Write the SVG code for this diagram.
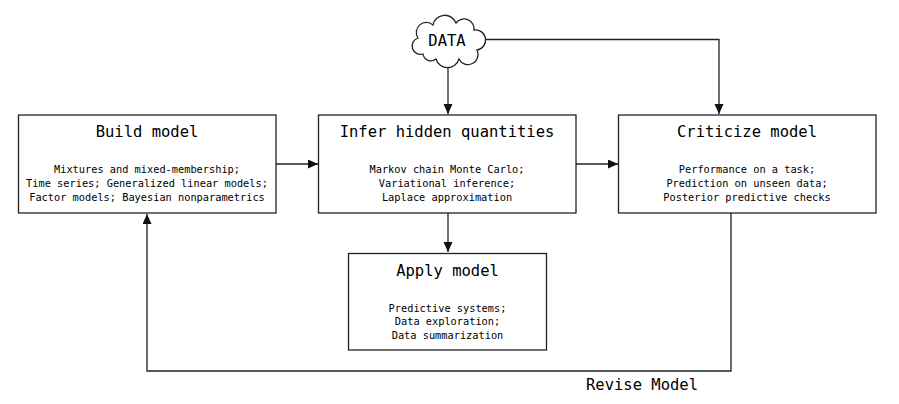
<svg xmlns="http://www.w3.org/2000/svg" width="899" height="404" viewBox="0 0 899 404">
  <style>
    .box { fill: #fff; stroke: #222; stroke-width: 1.3; }
    .title { font-family: "DejaVu Sans Mono", "Liberation Mono", monospace; font-size: 15.5px; fill: #000; text-anchor: middle; }
    .sub { font-family: "DejaVu Sans Mono", "Liberation Mono", monospace; font-size: 10.3px; fill: #000; text-anchor: middle; }
    .wire { fill: none; stroke: #222; stroke-width: 1.3; }
  </style>
  <defs>
    <marker id="arrow" markerUnits="userSpaceOnUse" markerWidth="11" markerHeight="10" refX="10" refY="4.5" orient="auto">
      <path d="M0,0 L10,4.5 L0,9 Z" fill="#111"/>
    </marker>
  </defs>
  <rect width="899" height="404" fill="#fff"/>

  <g id="connectors">
    <path class="wire" d="M448,60 V114" marker-end="url(#arrow)"/>
    <path class="wire" d="M481,39.5 H719 V114" marker-end="url(#arrow)"/>
    <path class="wire" d="M276,164 H318" marker-end="url(#arrow)"/>
    <path class="wire" d="M576,164 H618" marker-end="url(#arrow)"/>
    <path class="wire" d="M448,213 V252" marker-end="url(#arrow)"/>
    <path class="wire" d="M731,213 V371 H147 V214" marker-end="url(#arrow)"/>
    <text class="title" x="642" y="390">Revise Model</text>
  </g>

  <g id="data">
    <path class="box" d="M423,54 A8,8 0 0 1 418,38 A10,10 0 0 1 433,25 A12,12 0 0 1 456,23 A10,10 0 0 1 474,30 A9,9 0 0 1 477,50 A10,10 0 0 1 459,59 A12,12 0 0 1 436,59 A8,8 0 0 1 423,54 Z"/>
    <text class="title" x="447" y="45.5">DATA</text>
  </g>

  <g id="build">
    <rect class="box" x="18.5" y="115" width="257.5" height="98"/>
    <text class="title" x="147" y="137">Build model</text>
    <text class="sub" x="147" y="173">Mixtures and mixed-membership;</text>
    <text class="sub" x="147" y="187">Time series; Generalized linear models;</text>
    <text class="sub" x="147" y="201">Factor models; Bayesian nonparametrics</text>
  </g>

  <g id="infer">
    <rect class="box" x="318.5" y="115" width="257.5" height="98"/>
    <text class="title" x="447" y="137">Infer hidden quantities</text>
    <text class="sub" x="447" y="173">Markov chain Monte Carlo;</text>
    <text class="sub" x="447" y="187">Variational inference;</text>
    <text class="sub" x="447" y="201">Laplace approximation</text>
  </g>

  <g id="criticize">
    <rect class="box" x="618.5" y="115" width="257.5" height="98"/>
    <text class="title" x="747" y="137">Criticize model</text>
    <text class="sub" x="747" y="173">Performance on a task;</text>
    <text class="sub" x="747" y="187">Prediction on unseen data;</text>
    <text class="sub" x="747" y="201">Posterior predictive checks</text>
  </g>

  <g id="apply">
    <rect class="box" x="348.5" y="253.5" width="198" height="96.5"/>
    <text class="title" x="447.5" y="275.5">Apply model</text>
    <text class="sub" x="447.5" y="311.5">Predictive systems;</text>
    <text class="sub" x="447.5" y="325">Data exploration;</text>
    <text class="sub" x="447.5" y="339">Data summarization</text>
  </g>
</svg>
